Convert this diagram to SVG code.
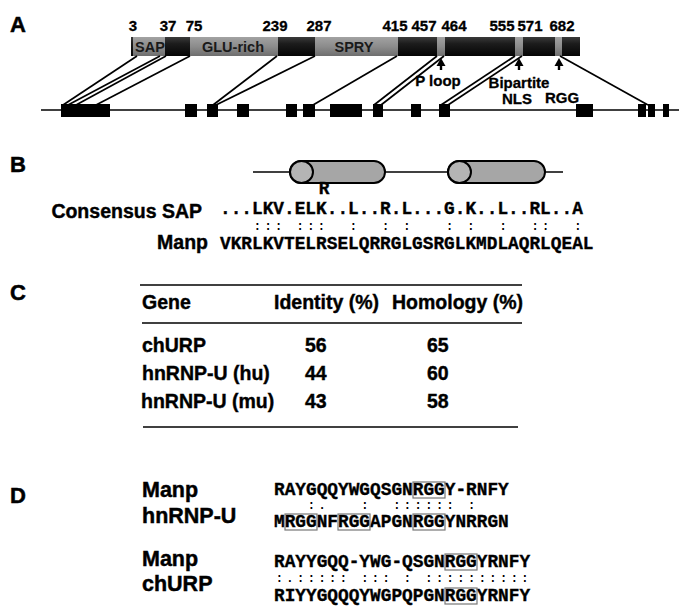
<svg xmlns="http://www.w3.org/2000/svg" width="679" height="606" viewBox="0 0 679 606">
  <style>
    .panel { font-family: "Liberation Sans", Arial, sans-serif; font-weight: bold; font-size: 22px; fill: #000; stroke: #000; stroke-width: 0.5px; }
    .num { font-family: "Liberation Sans", Arial, sans-serif; font-weight: bold; font-size: 15px; fill: #000; text-anchor: middle; stroke: #000; stroke-width: 0.3px; }
    .dom { font-family: "Liberation Sans", Arial, sans-serif; font-weight: bold; font-size: 14.5px; fill: #1a1a1a; text-anchor: middle; }
    .lbl { font-family: "Liberation Sans", Arial, sans-serif; font-weight: bold; font-size: 15px; fill: #000; text-anchor: middle; stroke: #000; stroke-width: 0.3px; }
    .name { font-family: "Liberation Sans", Arial, sans-serif; font-weight: bold; font-size: 19.5px; fill: #000; stroke: #000; stroke-width: 0.4px; }
    .tab { font-family: "Liberation Sans", Arial, sans-serif; font-weight: bold; font-size: 19.5px; fill: #000; stroke: #000; stroke-width: 0.4px; }
    .dname { font-family: "Liberation Sans", Arial, sans-serif; font-weight: bold; font-size: 21.5px; fill: #000; stroke: #000; stroke-width: 0.45px; }
    .seq { font-family: "Liberation Mono", "Courier New", monospace; font-weight: bold; font-size: 17.8px; fill: #000; white-space: pre; stroke: #000; stroke-width: 0.35px; }
    /* match marks: smaller glyphs on the same 10.68px column pitch */
    .match { font-family: "Liberation Mono", "Courier New", monospace; font-weight: bold; font-size: 12px; letter-spacing: 3.48px; fill: #000; white-space: pre; }
    .link { stroke: #000; stroke-width: 1.7; fill: none; }
    .axis { stroke: #000; stroke-width: 1.5; fill: none; }
    .exon { fill: #000; }
    .rule { stroke: #000; stroke-width: 1.6; }
    .box { fill: none; stroke: #777; stroke-width: 1.2; }
    .helix { fill: #a6a6a6; stroke: #000; stroke-width: 2; }
    .face { fill: #b4b4b4; stroke: #000; stroke-width: 2; }
  </style>
  <defs>
    <linearGradient id="darkBar" x1="0" y1="0" x2="0" y2="1">
      <stop offset="0" stop-color="#3a3a3a"/>
      <stop offset="0.35" stop-color="#1c1c1c"/>
      <stop offset="1" stop-color="#050505"/>
    </linearGradient>
    <linearGradient id="grayBar" x1="0" y1="0" x2="0" y2="1">
      <stop offset="0" stop-color="#a2a2a2"/>
      <stop offset="0.5" stop-color="#8c8c8c"/>
      <stop offset="1" stop-color="#6e6e6e"/>
    </linearGradient>
    <!-- upward arrow used under motif bands -->
    <path id="upArrow" d="M0,0 L4.5,8 L1.2,8 L1.2,12 L-1.2,12 L-1.2,8 L-4.5,8 Z" fill="#000"/>
  </defs>

  <rect width="679" height="606" fill="#fff"/>

  <!-- Panel labels -->
  <text class="panel" x="10" y="32">A</text>
  <text class="panel" x="10" y="172">B</text>
  <text class="panel" x="10" y="300">C</text>
  <text class="panel" x="10" y="503">D</text>

  <!-- A: residue numbers -->
  <g id="residue-numbers">
    <text class="num" x="133" y="31">3</text>
    <text class="num" x="168" y="31">37</text>
    <text class="num" x="194" y="31">75</text>
    <text class="num" x="275" y="31">239</text>
    <text class="num" x="319" y="31">287</text>
    <text class="num" x="395" y="31">415</text>
    <text class="num" x="424" y="31">457</text>
    <text class="num" x="454" y="31">464</text>
    <text class="num" x="502" y="31">555</text>
    <text class="num" x="530" y="31">571</text>
    <text class="num" x="562" y="31">682</text>
  </g>

  <!-- A: protein bar with domains -->
  <g id="protein">
    <rect x="131" y="37" width="449" height="19" fill="url(#darkBar)"/>
    <rect x="133" y="37" width="32" height="19" fill="url(#grayBar)"/>
    <rect x="190" y="37" width="88" height="19" fill="url(#grayBar)"/>
    <rect x="315" y="37" width="83" height="19" fill="url(#grayBar)"/>
    <rect x="437" y="37" width="8" height="19" fill="url(#grayBar)"/>
    <rect x="515" y="37" width="8" height="19" fill="url(#grayBar)"/>
    <rect x="555" y="37" width="7" height="19" fill="url(#grayBar)"/>
    <text class="dom" x="150" y="52">SAP</text>
    <text class="dom" x="233" y="52">GLU-rich</text>
    <text class="dom" x="354" y="52">SPRY</text>
  </g>

  <!-- A: gene structure -->
  <g id="gene">
    <line class="axis" x1="41" y1="110" x2="679" y2="110"/>
    <rect class="exon" x="61" y="104" width="49" height="13"/>
    <rect class="exon" x="185" y="104" width="12" height="13"/>
    <rect class="exon" x="207" y="104" width="11" height="13"/>
    <rect class="exon" x="237" y="104" width="12" height="13"/>
    <rect class="exon" x="286" y="104" width="11" height="13"/>
    <rect class="exon" x="303" y="104" width="12" height="13"/>
    <rect class="exon" x="330" y="104" width="32" height="13"/>
    <rect class="exon" x="373" y="104" width="10" height="13"/>
    <rect class="exon" x="411" y="104" width="10" height="13"/>
    <rect class="exon" x="439" y="104" width="11" height="13"/>
    <rect class="exon" x="576" y="104" width="17" height="13"/>
    <rect class="exon" x="638" y="104" width="8" height="13"/>
    <rect class="exon" x="648" y="104" width="7" height="13"/>
    <rect class="exon" x="663" y="104" width="6" height="13"/>
  </g>

  <!-- A: protein-to-exon connectors and motif arrows -->
  <g id="connectors">
    <line class="link" x1="137" y1="56" x2="63" y2="105"/>
    <line class="link" x1="160" y1="56" x2="68" y2="105"/>
    <line class="link" x1="166" y1="56" x2="76" y2="105"/>
    <line class="link" x1="190" y1="56" x2="96" y2="105"/>
    <line class="link" x1="277" y1="56" x2="213" y2="105"/>
    <line class="link" x1="315" y1="56" x2="216" y2="105"/>
    <line class="link" x1="397" y1="56" x2="313" y2="105"/>
    <line class="link" x1="437" y1="56" x2="374" y2="105"/>
    <line class="link" x1="444" y1="56" x2="381" y2="105"/>
    <line class="link" x1="515" y1="56" x2="441" y2="105"/>
    <line class="link" x1="522" y1="56" x2="448" y2="105"/>
    <line class="link" x1="560" y1="56" x2="648" y2="105"/>
    <use href="#upArrow" x="441" y="58"/>
    <use href="#upArrow" x="519" y="58"/>
    <use href="#upArrow" x="559" y="58"/>
  </g>

  <g id="motif-labels">
    <text class="lbl" x="438" y="86">P loop</text>
    <text class="lbl" x="519" y="88">Bipartite</text>
    <text class="lbl" x="517" y="104">NLS</text>
    <text class="lbl" x="562" y="103">RGG</text>
  </g>

  <!-- B: helix cartoon -->
  <g id="helices">
    <line class="axis" x1="253" y1="172" x2="290" y2="172"/>
    <line class="axis" x1="385" y1="172" x2="448" y2="172"/>
    <line class="axis" x1="545" y1="172" x2="563" y2="172"/>
    <rect class="helix" x="290" y="161" width="95" height="22" rx="11" ry="11"/>
    <ellipse class="face" cx="301.5" cy="172" rx="11.5" ry="11"/>
    <rect class="helix" x="448" y="161" width="97" height="22" rx="11" ry="11"/>
    <ellipse class="face" cx="459.5" cy="172" rx="11.5" ry="11"/>
  </g>

  <!-- B: SAP alignment -->
  <g id="sap-alignment">
    <text class="seq" x="324" y="194" text-anchor="middle">R</text>
    <text class="name" x="202" y="218" text-anchor="end">Consensus SAP</text>
    <text class="seq" x="220" y="214" xml:space="preserve">...LKV.ELK..L..R.L...G.K..L..RL..A</text>
    <text class="match" x="221.7" y="230" xml:space="preserve">   ::: :::  :  : :   : :  :  ::  :</text>
    <text class="name" x="208" y="249" text-anchor="end">Manp</text>
    <text class="seq" x="220" y="249">VKRLKVTELRSELQRRGLGSRGLKMDLAQRLQEAL</text>
  </g>

  <!-- C: identity table -->
  <g id="identity-table">
    <line class="rule" x1="140" y1="285" x2="522" y2="285"/>
    <line class="rule" x1="142" y1="323" x2="522" y2="323"/>
    <line class="rule" x1="143" y1="427" x2="518" y2="427"/>
    <text class="tab" x="142" y="309">Gene</text>
    <text class="tab" x="274" y="309">Identity (%)</text>
    <text class="tab" x="392" y="309">Homology (%)</text>
    <text class="tab" x="142" y="352">chURP</text>
    <text class="tab" x="305" y="352">56</text>
    <text class="tab" x="427" y="352">65</text>
    <text class="tab" x="142" y="380">hnRNP-U (hu)</text>
    <text class="tab" x="305" y="380">44</text>
    <text class="tab" x="427" y="380">60</text>
    <text class="tab" x="141" y="408">hnRNP-U (mu)</text>
    <text class="tab" x="305" y="408">43</text>
    <text class="tab" x="427" y="408">58</text>
  </g>

  <!-- D: RGG alignments -->
  <g id="rgg-hnrnpu">
    <text class="dname" x="142" y="497">Manp</text>
    <text class="dname" x="142" y="523">hnRNP-U</text>
    <text class="seq" x="274" y="495">RAYGQQYWGQSGNRGGY-RNFY</text>
    <text class="match" x="275.7" y="509" xml:space="preserve">   :.   :  :::::: :</text>
    <text class="seq" x="274" y="527">MRGGNFRGGAPGNRGGYNRRGN</text>
    <rect class="box" x="413" y="482" width="32" height="16"/>
    <rect class="box" x="285" y="514" width="32" height="16"/>
    <rect class="box" x="338" y="514" width="32" height="16"/>
    <rect class="box" x="413" y="514" width="32" height="16"/>
  </g>

  <g id="rgg-churp">
    <text class="dname" x="142" y="566">Manp</text>
    <text class="dname" x="142" y="591">chURP</text>
    <text class="seq" x="274" y="567">RAYYGQQ-YWG-QSGNRGGYRNFY</text>
    <text class="match" x="275.7" y="582" xml:space="preserve">:.::::: ::: : ::::::::::</text>
    <text class="seq" x="274" y="601">RIYYGQQQYWGPQPGNRGGYRNFY</text>
    <rect class="box" x="445" y="554" width="32" height="16"/>
    <rect class="box" x="445" y="588" width="32" height="16"/>
  </g>
</svg>
